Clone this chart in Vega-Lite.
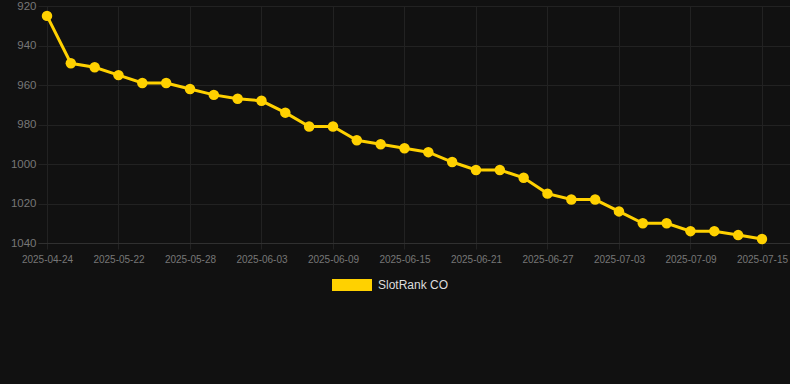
{
  "$schema": "https://vega.github.io/schema/vega-lite/v6.json",
  "autosize": "none",
  "width": 752,
  "height": 237,
  "padding": {"left": 38, "top": 6, "right": 0, "bottom": 141},
  "background": "#111111",
  "config": {
    "view": {"stroke": null},
    "font": "Liberation Sans"
  },
  "data": {
    "values": [
      {"date": "2025-04-24", "rank": 925, "series": "SlotRank CO"},
      {"date": "2025-05-18", "rank": 949, "series": "SlotRank CO"},
      {"date": "2025-05-20", "rank": 951, "series": "SlotRank CO"},
      {"date": "2025-05-22", "rank": 955, "series": "SlotRank CO"},
      {"date": "2025-05-24", "rank": 959, "series": "SlotRank CO"},
      {"date": "2025-05-26", "rank": 959, "series": "SlotRank CO"},
      {"date": "2025-05-28", "rank": 962, "series": "SlotRank CO"},
      {"date": "2025-05-30", "rank": 965, "series": "SlotRank CO"},
      {"date": "2025-06-01", "rank": 967, "series": "SlotRank CO"},
      {"date": "2025-06-03", "rank": 968, "series": "SlotRank CO"},
      {"date": "2025-06-05", "rank": 974, "series": "SlotRank CO"},
      {"date": "2025-06-07", "rank": 981, "series": "SlotRank CO"},
      {"date": "2025-06-09", "rank": 981, "series": "SlotRank CO"},
      {"date": "2025-06-11", "rank": 988, "series": "SlotRank CO"},
      {"date": "2025-06-13", "rank": 990, "series": "SlotRank CO"},
      {"date": "2025-06-15", "rank": 992, "series": "SlotRank CO"},
      {"date": "2025-06-17", "rank": 994, "series": "SlotRank CO"},
      {"date": "2025-06-19", "rank": 999, "series": "SlotRank CO"},
      {"date": "2025-06-21", "rank": 1003, "series": "SlotRank CO"},
      {"date": "2025-06-23", "rank": 1003, "series": "SlotRank CO"},
      {"date": "2025-06-25", "rank": 1007, "series": "SlotRank CO"},
      {"date": "2025-06-27", "rank": 1015, "series": "SlotRank CO"},
      {"date": "2025-06-29", "rank": 1018, "series": "SlotRank CO"},
      {"date": "2025-07-01", "rank": 1018, "series": "SlotRank CO"},
      {"date": "2025-07-03", "rank": 1024, "series": "SlotRank CO"},
      {"date": "2025-07-05", "rank": 1030, "series": "SlotRank CO"},
      {"date": "2025-07-07", "rank": 1030, "series": "SlotRank CO"},
      {"date": "2025-07-09", "rank": 1034, "series": "SlotRank CO"},
      {"date": "2025-07-11", "rank": 1034, "series": "SlotRank CO"},
      {"date": "2025-07-13", "rank": 1036, "series": "SlotRank CO"},
      {"date": "2025-07-15", "rank": 1038, "series": "SlotRank CO"}
    ]
  },
  "encoding": {
    "x": {
      "field": "date",
      "type": "ordinal",
      "sort": null,
      "scale": {"type": "point", "padding": 0.7765, "align": 0.243},
      "axis": {
        "title": null,
        "values": ["2025-04-24", "2025-05-22", "2025-05-28", "2025-06-03", "2025-06-09", "2025-06-15", "2025-06-21", "2025-06-27", "2025-07-03", "2025-07-09", "2025-07-15"],
        "labelAngle": 0,
        "labelFontSize": 10,
        "labelColor": "#777777",
        "labelPadding": 5,
        "tickSize": 6,
        "tickColor": "#222222",
        "domain": true,
        "domainColor": "#303030",
        "grid": true,
        "gridColor": "#222222",
        "gridWidth": 1
      }
    },
    "y": {
      "field": "rank",
      "type": "quantitative",
      "scale": {"domain": [920, 1040], "reverse": true, "nice": false, "zero": false},
      "axis": {
        "title": null,
        "values": [920, 940, 960, 980, 1000, 1020, 1040],
        "format": "d",
        "labelFontSize": 11.5,
        "labelColor": "#777777",
        "labelPadding": 2,
        "tickSize": 0,
        "domain": false,
        "grid": true,
        "gridColor": "#222222",
        "gridWidth": 1
      }
    },
    "color": {
      "field": "series",
      "type": "nominal",
      "scale": {"range": ["#FFD100"]},
      "legend": {
        "title": null,
        "orient": "none",
        "legendX": 294,
        "legendY": 259,
        "padding": 0,
        "symbolType": "M-1,-0.3H1V0.3H-1Z",
        "symbolSize": 1600,
        "symbolStrokeWidth": 0,
        "symbolOpacity": 1,
        "labelFontSize": 12,
        "labelColor": "#dddddd",
        "labelOffset": 6
      }
    }
  },
  "layer": [
    {"mark": {"type": "line", "strokeWidth": 3}},
    {"mark": {"type": "point", "filled": true, "size": 110, "opacity": 1}}
  ]
}
